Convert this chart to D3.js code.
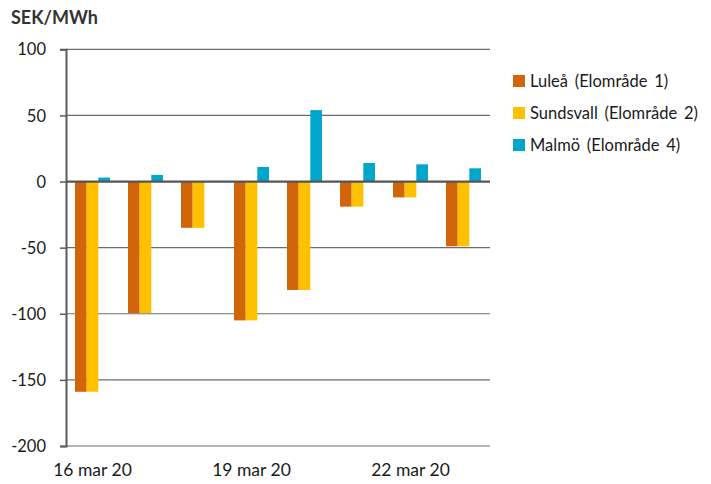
<!DOCTYPE html>
<html>
<head>
<meta charset="utf-8">
<script src="https://cdn.jsdelivr.net/npm/d3@7"></script>
<style>
  body { margin: 0; background: #fff; }
  svg { display: block; font-family: Lato, "Open Sans", sans-serif; }
</style>
</head>
<body>
<svg id="chart" width="711" height="484"></svg>
<script>
// Daily price differences per area, 16–23 March 2020
const days = ["16 mar 20", "17 mar 20", "18 mar 20", "19 mar 20", "20 mar 20", "21 mar 20", "22 mar 20", "23 mar 20"];
const seriesNames = ["Luleå (Elområde 1)", "Sundsvall (Elområde 2)", "Malmö (Elområde 4)"];
const lulea     = [-159, -99.5, -35, -105, -82, -19, -12, -49];
const sundsvall = [-159, -99.5, -35, -105, -82, -19, -12, -49];
const malmo     = [3, 5, 0, 11, 54, 14, 13, 10];
const colors = ["#D2650A", "#FFC000", "#00A6CB"];
const yTicks = [100, 50, 0, -50, -100, -150, -200];
const xLabelDays = ["16 mar 20", "19 mar 20", "22 mar 20"];

const values = [lulea, sundsvall, malmo];
const svg = d3.select("#chart");
const m = { left: 66, right: 490, top: 49.3, bottom: 446 };

const x = d3.scaleBand().domain(days).range([m.left, m.right]).paddingInner(0.34).paddingOuter(0.17);
const xs = d3.scaleBand().domain(d3.range(3)).range([0, x.bandwidth()]);
const y = d3.scaleLinear().domain([-200, 100]).range([m.bottom, m.top]);

// gridlines
svg.append("g").selectAll("line").data(yTicks.filter(t => t !== 0)).join("line")
  .attr("x1", m.left).attr("x2", m.right)
  .attr("y1", d => y(d)).attr("y2", d => y(d))
  .attr("stroke", "#6b6b6b").attr("stroke-width", 1.2);

// bars
const rows = days.map((d, i) => ({ day: d, vals: values.map(v => v[i]) }));
svg.append("g").selectAll("g").data(rows).join("g")
  .attr("transform", d => `translate(${x(d.day)},0)`)
  .selectAll("rect").data(d => d.vals.map((v, k) => ({ v, k }))).join("rect")
  .attr("x", d => xs(d.k))
  .attr("width", xs.bandwidth())
  .attr("y", d => y(Math.max(0, d.v)))
  .attr("height", d => Math.abs(y(d.v) - y(0)))
  .attr("fill", d => colors[d.k]);

// zero line
svg.append("line")
  .attr("x1", m.left).attr("x2", m.right)
  .attr("y1", y(0)).attr("y2", y(0))
  .attr("stroke", "#555").attr("stroke-width", 2.2);

// y axis
const yAxis = d3.axisLeft(y).tickValues(yTicks).tickSize(6).tickPadding(14).tickFormat(d => String(d));
const gy = svg.append("g").attr("transform", `translate(${m.left},0)`).call(yAxis);
gy.select(".domain").attr("stroke", "#5a5a5a").attr("stroke-width", 2);
gy.selectAll(".tick line").attr("stroke", "#5a5a5a").attr("stroke-width", 1.5);
gy.selectAll(".tick text").attr("font-size", 16.5).attr("fill", "#1a1a1a")
  .attr("font-family", "Lato, 'Open Sans', sans-serif").attr("dy", "0.34em");

// x labels
svg.append("g").selectAll("text").data(xLabelDays).join("text")
  .attr("x", d => x(d) + x.bandwidth() / 2)
  .attr("y", 476)
  .attr("text-anchor", "middle")
  .attr("font-size", 17.5).attr("fill", "#1a1a1a")
  .text(d => d);

// unit title
svg.append("text").attr("x", 11).attr("y", 24)
  .attr("font-size", 18).attr("font-weight", "bold").attr("fill", "#333")
  .text("SEK/MWh");

// legend
const lg = svg.append("g").selectAll("g").data(seriesNames).join("g")
  .attr("transform", (d, i) => `translate(513,${75 + i * 32})`);
lg.append("rect").attr("width", 12).attr("height", 12).attr("fill", (d, i) => colors[i]);
lg.append("text").attr("x", 17).attr("y", 12).attr("font-size", 16.5)
  .attr("word-spacing", 2.5).attr("fill", "#1a1a1a").text(d => d);
</script>
</body>
</html>
